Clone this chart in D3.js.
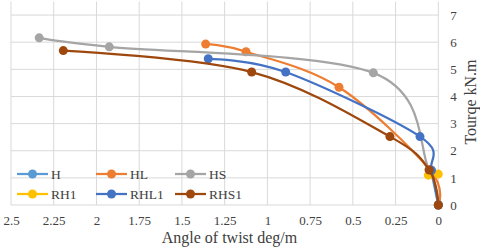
<!DOCTYPE html>
<html>
<head>
<meta charset="utf-8">
<script src="https://cdn.jsdelivr.net/npm/d3@7"></script>
<style>
    body { margin: 0; background: #fff; }
    text { font-family: "Liberation Serif", "Times New Roman", serif; fill: #404040; }
</style>
</head>
<body>
<div id="chart"></div>
<script>
// angle of twist (deg/m) vs torque (kN.m)
const seriesNames = ['H', 'HL', 'HS', 'RH1', 'RHL1', 'RHS1'];
const seriesColors = ['#5B9BD5', '#ED7D31', '#A5A5A5', '#FFC000', '#4472C4', '#9E480E'];

const H_angle = [0, 0.04];
const H_torque = [0, 1.2];
const HL_angle = [1.361, 1.125, 0.581, 0.05, 0];
const HL_torque = [5.93, 5.65, 4.34, 1.3, 0];
const HS_angle = [2.335, 1.925, 0.38, 0.055, 0];
const HS_torque = [6.16, 5.83, 4.87, 1.3, 0];
const RH1_angle = [0.058, 0];
const RH1_torque = [1.10, 1.14];
const RHL1_angle = [1.346, 0.893, 0.107, 0.04, 0];
const RHL1_torque = [5.39, 4.90, 2.52, 1.28, 0];
const RHS1_angle = [2.194, 1.092, 0.283, 0.053, 0];
const RHS1_torque = [5.69, 4.90, 2.52, 1.29, 0];

const xTicks = [2.5, 2.25, 2, 1.75, 1.5, 1.25, 1, 0.75, 0.5, 0.25, 0];
const yTicks = [0, 1, 2, 3, 4, 5, 6, 7];

const angles = [H_angle, HL_angle, HS_angle, RH1_angle, RHL1_angle, RHS1_angle];
const torques = [H_torque, HL_torque, HS_torque, RH1_torque, RHL1_torque, RHS1_torque];

const width = 480,
    height = 251;

const series = seriesNames.map((name, i) => ({
    name: name,
    color: seriesColors[i],
    points: angles[i].map((a, j) => ({ x: a, y: torques[i][j] }))
}));

const svg = d3.select('#chart').append('svg')
    .attr('width', width)
    .attr('height', height);

const x = d3.scaleLinear()
    .domain([2.5, 0])
    .range([11, 438.3]);

const y = d3.scaleLinear()
    .domain([0, 7.5])
    .range([205, 1.5]);

// grid
const grid = svg.append('g').attr('class', 'grid');
grid.selectAll('line.v')
    .data(xTicks)
    .enter()
    .append('line')
    .attr('x1', d => x(d)).attr('x2', d => x(d))
    .attr('y1', y(7.5)).attr('y2', y(0))
    .attr('stroke', '#D9D9D9')
    .attr('stroke-width', 1);
grid.selectAll('line.h')
    .data(yTicks)
    .enter()
    .append('line')
    .attr('x1', x(2.5)).attr('x2', x(0))
    .attr('y1', d => y(d)).attr('y2', d => y(d))
    .attr('stroke', '#D9D9D9')
    .attr('stroke-width', 1);

// axes (labels only, Excel style)
const xAxis = d3.axisBottom(x).tickValues(xTicks).tickSize(0).tickPadding(11)
    .tickFormat(d3.format('~g'));
svg.append('g')
    .attr('transform', 'translate(0,' + y(0) + ')')
    .call(xAxis)
    .call(g => g.select('.domain').remove())
    .selectAll('text')
    .style('font-family', '"Liberation Serif", serif')
    .style('font-size', '13px')
    .attr('fill', '#404040');

const yAxis = d3.axisRight(y).tickValues(yTicks).tickSize(0).tickPadding(12)
    .tickFormat(d3.format('d'));
svg.append('g')
    .attr('transform', 'translate(' + x(0) + ',0)')
    .call(yAxis)
    .call(g => g.select('.domain').remove())
    .selectAll('text')
    .style('font-family', '"Liberation Serif", serif')
    .style('font-size', '13px')
    .attr('fill', '#404040');

svg.append('text')
    .attr('x', 229.5)
    .attr('y', 243)
    .attr('text-anchor', 'middle')
    .style('font-size', '16px')
    .text('Angle of twist deg/m');

svg.append('text')
    .attr('transform', 'translate(476,102) rotate(-90)')
    .attr('text-anchor', 'middle')
    .style('font-size', '16px')
    .text('Tourqe kN.m');

// series
const line = d3.line()
    .x(d => x(d.x))
    .y(d => y(d.y))
    .curve(d3.curveCardinal.tension(0));

const lines = svg.append('g').attr('class', 'series');
series.forEach(s => {
    const g = lines.append('g');
    g.append('path')
        .attr('d', line(s.points))
        .attr('fill', 'none')
        .attr('stroke', s.color)
        .attr('stroke-width', 2.25);
    g.selectAll('circle')
        .data(s.points)
        .enter()
        .append('circle')
        .attr('cx', d => x(d.x))
        .attr('cy', d => y(d.y))
        .attr('r', 4.5)
        .attr('fill', s.color);
});

// legend
const legend = svg.append('g').attr('class', 'legend');
series.forEach((s, i) => {
    const lx = 17 + (i % 3) * 79,
        ly = i < 3 ? 174 : 194;
    const item = legend.append('g').attr('transform', 'translate(' + lx + ',' + ly + ')');
    item.append('line')
        .attr('x1', 0).attr('x2', 31)
        .attr('y1', 0).attr('y2', 0)
        .attr('stroke', s.color)
        .attr('stroke-width', 2.25);
    item.append('circle')
        .attr('cx', 15.5).attr('cy', 0)
        .attr('r', 4.5)
        .attr('fill', s.color);
    item.append('text')
        .attr('x', 34)
        .attr('y', 4.7)
        .style('font-size', '13.5px')
        .text(s.name);
});
</script>
</body>
</html>
